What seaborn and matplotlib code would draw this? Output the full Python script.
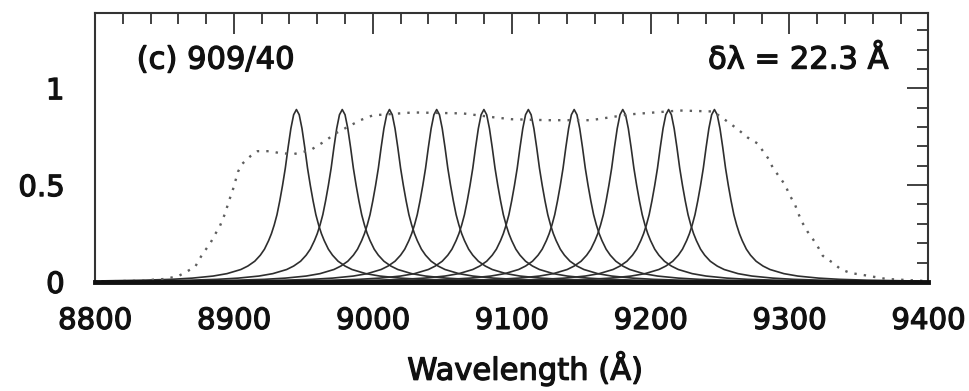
import numpy as np
import pandas as pd
import matplotlib
matplotlib.use("Agg")
import matplotlib.pyplot as plt
import matplotlib.patheffects as pe
from matplotlib.ticker import MultipleLocator
import seaborn as sns

# transmission peaks (centre in Angstrom, peak transmission)
peak_centres = [8945, 8978, 9012, 9046, 9080, 9112, 9145, 9180, 9213, 9246]
peak_heights = [0.89, 0.89, 0.89, 0.89, 0.89, 0.89, 0.89, 0.89, 0.89, 0.89]

# single-peak profile: offset from centre (A) -> relative transmission
profile_offset = [0, 2, 4, 6, 8, 10, 12, 14, 16, 18, 20, 23, 26, 30, 35, 40, 50,
                  60, 75, 90, 110, 140, 180, 250, 350, 500]
profile_rel = [1.0, 0.97, 0.89, 0.78, 0.66, 0.56, 0.47, 0.39, 0.33, 0.28, 0.24,
               0.19, 0.155, 0.12, 0.092, 0.072, 0.048, 0.034, 0.022, 0.015,
               0.010, 0.006, 0.004, 0.002, 0.001, 0.0005]

# blocking filter 909/40 (dotted)
filter_wl = [8800, 8830, 8850, 8860, 8872, 8877, 8883, 8886, 8890, 8894, 8896,
             8899, 8901, 8903, 8906, 8912, 8917, 8926, 8933, 8943, 8955, 8964,
             8974, 8991, 9000, 9029, 9065, 9087, 9100, 9126, 9157, 9185, 9221,
             9245, 9257, 9265, 9270, 9277, 9281, 9285, 9288, 9293, 9297, 9300,
             9304, 9306, 9309, 9313, 9317, 9321, 9324, 9331, 9337, 9344, 9353,
             9370, 9400]
filter_tr = [0.002, 0.006, 0.015, 0.03, 0.077, 0.14, 0.20, 0.24, 0.29, 0.36, 0.41,
             0.47, 0.52, 0.57, 0.61, 0.65, 0.675, 0.675, 0.665, 0.66, 0.68, 0.72,
             0.77, 0.835, 0.86, 0.875, 0.87, 0.85, 0.84, 0.835, 0.835, 0.865, 0.885,
             0.88, 0.82, 0.775, 0.745, 0.715, 0.675, 0.635, 0.59, 0.54, 0.50, 0.45,
             0.40, 0.36, 0.31, 0.26, 0.22, 0.175, 0.135, 0.10, 0.065, 0.046, 0.036,
             0.015, 0.004]

sns.set_theme(style="white")
plt.rcParams['font.family'] = ['DejaVu Sans']

# long-form table of the peaks
off = np.array(profile_offset, dtype=float)
rel = np.array(profile_rel)
off_full = np.concatenate([-off[::-1], off[1:]])
rel_full = np.concatenate([rel[::-1], rel[1:]])
rows = []
for i, (c, h) in enumerate(zip(peak_centres, peak_heights)):
    for o, r in zip(off_full, rel_full):
        rows.append({'peak': i, 'wl': c + o, 'T': h * r})
peaks = pd.DataFrame(rows)
peaks = peaks[(peaks['wl'] >= 8800) & (peaks['wl'] <= 9400)]

fig = plt.figure(figsize=(9.7, 3.91), dpi=100)
ax = fig.add_axes([0.098, 0.279, 0.859, 0.6885])

sns.lineplot(data=peaks, x='wl', y='T', hue='peak',
             palette=['#2e2e2e'] * len(peak_centres), estimator=None,
             linewidth=1.2, legend=False, ax=ax)
sns.lineplot(x=filter_wl, y=filter_tr, color='#5e5e5e', linewidth=1.7,
             linestyle=(0, (1, 3)), estimator=None, ax=ax)

ax.set_xlim(8800, 9400)
ax.set_ylim(0, 1.39)
ax.xaxis.set_major_locator(MultipleLocator(100))
ax.xaxis.set_minor_locator(MultipleLocator(20))
ax.yaxis.set_major_locator(MultipleLocator(0.5))
ax.yaxis.set_minor_locator(MultipleLocator(0.1))
ax.set_yticks([0, 0.5, 1])
ax.set_yticklabels(['0', '0.5', '1'])

ax.tick_params(which='both', direction='in', top=True, right=True,
               color='#333333', width=1.3)
ax.tick_params(which='major', length=15)
ax.tick_params(which='minor', length=8)
ax.tick_params(axis='x', which='major', pad=18, labelsize=21, labelcolor='#111111')
ax.tick_params(axis='y', which='major', pad=22, labelsize=21, labelcolor='#111111')

for side in ['top', 'left', 'right']:
    ax.spines[side].set_linewidth(1.5)
    ax.spines[side].set_color('#333333')
ax.spines['bottom'].set_linewidth(3.5)
ax.spines['bottom'].set_color('#111111')

ax.set_xlabel('Wavelength (Å)', fontsize=22, color='#111111')
ax.xaxis.label.set_verticalalignment('center')
ax.xaxis.set_label_coords(0.516, -0.322)
ax.set_ylabel('')

ax.text(0.05, 0.824, '(c) 909/40', transform=ax.transAxes, fontsize=22,
        ha='left', va='center', color='#111111')
ax.text(0.952, 0.824, 'δλ = 22.3 Å', transform=ax.transAxes, fontsize=22,
        ha='right', va='center', color='#111111')

# slightly heavier strokes on all text, like the reference
heavy = [pe.withStroke(linewidth=0.9, foreground='#111111')]
for t in ax.get_xticklabels() + ax.get_yticklabels() + ax.texts + [ax.xaxis.label]:
    t.set_path_effects(heavy)

fig.savefig('out.png', dpi=100)
